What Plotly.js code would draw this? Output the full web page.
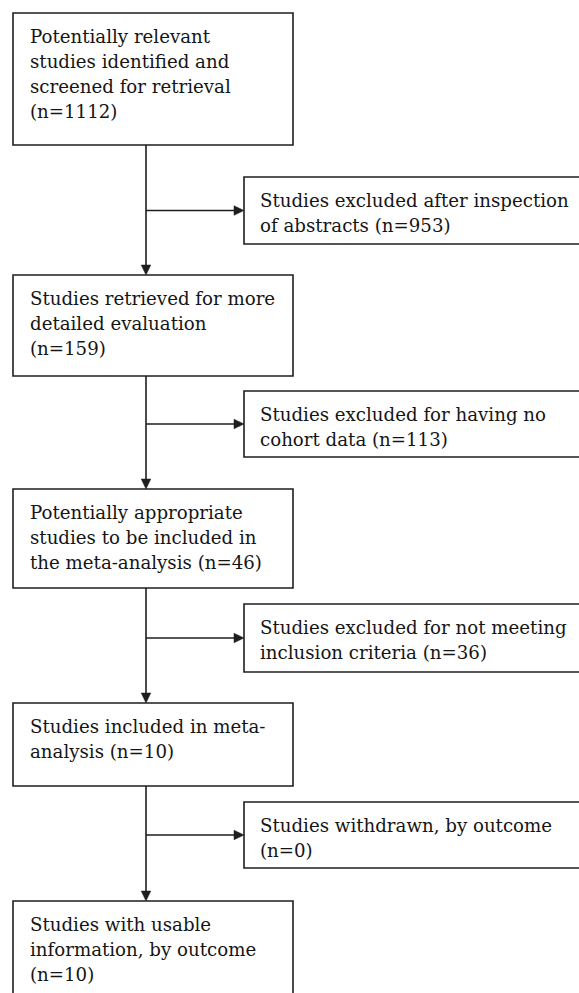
<!DOCTYPE html>
<html>
<head>
<meta charset="utf-8">
<script src="https://cdn.plot.ly/plotly-3.0.1.min.js"></script>
<style>html,body{margin:0;padding:0;background:#fff;overflow:hidden;}</style>
</head>
<body>
<div id="chart" style="width:579px;height:993px;"></div>
<script>
// ---- data ----
const stageCounts = [1112, 159, 46, 10, 10];
const stageLines = [
  ["Potentially relevant", "studies identified and", "screened for retrieval", "(n={n})"],
  ["Studies retrieved for more", "detailed evaluation", "(n={n})"],
  ["Potentially appropriate", "studies to be included in", "the meta-analysis (n={n})"],
  ["Studies included in meta-", "analysis (n={n})"],
  ["Studies with usable", "information, by outcome", "(n={n})"]
];
const exclusionCounts = [953, 113, 36, 0];
const exclusionLines = [
  ["Studies excluded after inspection", "of abstracts (n={n})"],
  ["Studies excluded for having no", "cohort data (n={n})"],
  ["Studies excluded for not meeting", "inclusion criteria (n={n})"],
  ["Studies withdrawn, by outcome", "(n={n})"]
];

// ---- layout geometry ----
const W = 579, H = 993;
const leftX0 = 13, leftX1 = 293;
const leftTop = [13, 275, 489, 703, 901];
const leftBottom = [145, 376, 588, 786, 1020];
const rightX0 = 244, rightX1 = 620;
const rightTop = [177, 391, 604, 802];
const rightBottom = [244, 457, 672, 868];
const spineX = 146;
const lineColor = "#1e1e1e";
const textColor = "#151515";
const fontFamily = "DejaVu Serif";
const fontSize = 18.2;
const lineGap = 25.3;
const firstLineMid = 23;
const textPad = 15;
const headLen = 10, headHalf = 4.8;

const shapes = [];
const annotations = [];

function addBox(x0, y0, x1, y1) {
  shapes.push({type: "rect", xref: "x", yref: "y", x0: x0, y0: y0, x1: x1, y1: y1,
    line: {color: lineColor, width: 1.6}, fillcolor: "rgba(0,0,0,0)"});
}
function addText(lines, count, x, top) {
  lines.forEach(function (ln, i) {
    annotations.push({xref: "x", yref: "y", x: x, y: top + firstLineMid + i * lineGap,
      xanchor: "left", yanchor: "middle", showarrow: false,
      text: ln.replace("{n}", count),
      font: {family: fontFamily, size: fontSize, color: textColor}});
  });
}
function addLine(x0, y0, x1, y1) {
  shapes.push({type: "line", xref: "x", yref: "y", x0: x0, y0: y0, x1: x1, y1: y1,
    line: {color: lineColor, width: 1.6}});
}
function addHead(tipX, tipY, dir) {
  let p;
  if (dir === "down") {
    p = "M" + (tipX - headHalf) + "," + (tipY - headLen) + " L" + (tipX + headHalf) + "," + (tipY - headLen) + " L" + tipX + "," + tipY + " Z";
  } else {
    p = "M" + (tipX - headLen) + "," + (tipY - headHalf) + " L" + (tipX - headLen) + "," + (tipY + headHalf) + " L" + tipX + "," + tipY + " Z";
  }
  shapes.push({type: "path", xref: "x", yref: "y", path: p,
    fillcolor: lineColor, line: {color: lineColor, width: 0.5}});
}

stageLines.forEach(function (lines, i) {
  addBox(leftX0, leftTop[i], leftX1, leftBottom[i]);
  addText(lines, stageCounts[i], leftX0 + textPad, leftTop[i]);
});
exclusionLines.forEach(function (lines, i) {
  addBox(rightX0, rightTop[i], rightX1, rightBottom[i]);
  addText(lines, exclusionCounts[i], rightX0 + 14, rightTop[i]);
  // spine from stage i to stage i+1
  addLine(spineX, leftBottom[i], spineX, leftTop[i + 1] - headLen + 1);
  addHead(spineX, leftTop[i + 1], "down");
  // branch to exclusion box
  const ay = (rightTop[i] + rightBottom[i]) / 2;
  addLine(spineX, ay, rightX0 - headLen + 1, ay);
  addHead(rightX0, ay, "right");
});

const layout = {
  width: W, height: H,
  margin: {l: 0, r: 0, t: 0, b: 0, pad: 0},
  paper_bgcolor: "#fff", plot_bgcolor: "#fff",
  xaxis: {range: [0, W], visible: false, fixedrange: true},
  yaxis: {range: [H, 0], visible: false, fixedrange: true},
  showlegend: false,
  shapes: shapes,
  annotations: annotations
};

Plotly.newPlot("chart", [{x: [], y: [], type: "scatter", hoverinfo: "skip"}], layout,
  {displayModeBar: false, staticPlot: true});
</script>
</body>
</html>
